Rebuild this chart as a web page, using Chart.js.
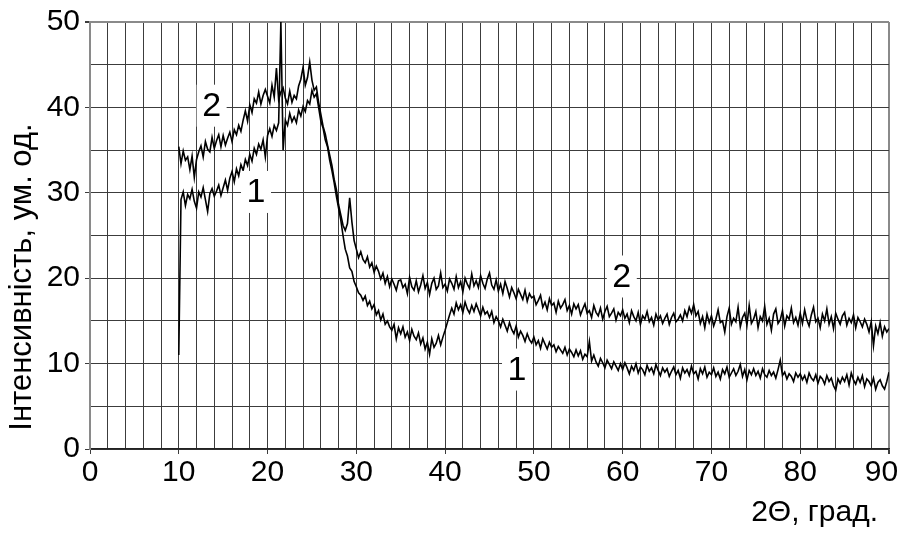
<!DOCTYPE html>
<html>
<head>
<meta charset="utf-8">
<script src="https://cdn.jsdelivr.net/npm/chart.js@4.4.1/dist/chart.umd.min.js"></script>
<style>
  html, body { margin: 0; padding: 0; background: #fff; }
  #wrap { width: 902px; height: 533px; position: relative; }
</style>
</head>
<body>
<div id="wrap"><canvas id="xrd"></canvas></div>
<script>
// XRD scan: 2θ from 10 to 90 deg, one reading every 0.25 deg
const SCAN_START = 10;
const SCAN_STEP = 0.25;

// curve 1 (lower at low angles)
const intensity1 = [
  11.0, 29.2, 30.1, 28.5, 29.8, 29.3, 30.4, 29.0, 28.2, 30.1, 29.5, 30.6, 29.2, 27.8, 29.9, 30.5, 29.6, 30.2, 30.9, 29.7,
  30.6, 31.5, 30.3, 31.7, 32.5, 31.3, 32.8, 32.0, 33.3, 32.6, 33.9, 33.2, 34.5, 33.7, 35.2, 34.5, 35.7, 35.1, 36.2, 34.2,
  36.7, 37.5, 36.6, 37.9, 37.3, 38.2, 50.0, 35.0, 38.5, 37.9, 39.3, 38.3, 38.9, 38.2, 39.7, 39.0, 40.1, 39.5, 40.8, 40.4,
  42.0, 41.2, 41.6, 40.0, 38.4, 37.6, 36.2, 35.4, 33.8, 32.6, 31.2, 29.6, 28.2, 26.8, 25.0, 23.4, 22.6, 21.2, 20.8, 19.6,
  19.0, 18.3, 18.0, 17.4, 17.9, 16.8, 17.3, 16.4, 16.9, 15.7, 16.2, 15.1, 15.8, 14.6, 15.0, 14.3, 13.9, 14.6, 12.9, 14.2,
  13.5, 14.3, 13.1, 13.7, 12.7, 14.0, 13.2, 12.8, 13.6, 12.3, 13.0, 11.7, 12.5, 11.1, 12.9, 11.9, 12.4, 13.3, 12.2, 13.1,
  13.9, 14.8, 15.7, 16.5, 15.8, 17.1, 16.3, 16.9, 16.0, 17.2, 16.4, 15.9, 16.8, 16.1, 17.0, 16.3, 15.6, 16.6, 15.8, 16.1,
  15.4, 16.1, 14.8, 15.5, 15.0, 14.3, 15.2, 14.5, 13.8, 14.8, 14.0, 13.5, 14.4, 13.1, 13.8, 13.3, 12.6, 13.5, 12.8, 12.4,
  13.1, 12.2, 12.7, 11.8, 12.9, 12.3, 11.7, 12.5, 11.9, 12.2, 11.4, 12.0, 11.6, 11.2, 11.9, 11.0, 11.7, 11.3, 10.8, 11.6,
  10.9, 11.5, 10.5, 11.1, 10.8, 12.6, 10.3, 11.0, 10.2, 9.7, 10.6, 10.1, 9.5, 10.4, 9.9, 9.4, 10.2, 9.7, 9.2, 10.0,
  9.3, 10.1, 9.5, 8.8, 9.7, 9.2, 10.0, 8.9, 9.6, 9.3, 8.7, 9.8, 9.1, 9.5, 8.8, 9.9, 9.2, 8.6, 9.5, 9.0,
  9.4, 8.5, 9.1, 9.6, 8.7, 9.2, 8.3, 9.5, 8.9, 9.3, 8.6, 9.7, 8.8, 9.1, 8.2, 9.4, 8.8, 9.6, 8.4, 9.0,
  8.7, 9.5, 8.5, 9.0, 8.2, 9.3, 8.8, 9.6, 8.4, 8.9, 9.4, 8.6, 9.1, 9.9, 8.5, 9.3, 8.1, 9.2, 8.7, 9.4,
  8.6, 9.1, 8.3, 9.4, 8.7, 8.4, 9.2, 8.6, 9.0, 8.3, 9.3, 10.4, 8.6, 9.0, 8.2, 8.8, 8.5, 7.9, 8.9, 8.4,
  8.8, 8.1, 8.6, 7.8, 8.9, 8.3, 8.0, 8.7, 7.7, 8.5, 8.2, 7.6, 8.6, 7.9, 8.3, 7.4, 6.9, 8.2, 7.7, 8.4,
  7.9, 8.7, 7.5, 8.9, 8.1, 7.6, 8.4, 7.8, 8.6, 7.3, 8.2, 7.9, 7.4, 8.3, 7.0, 7.8, 8.1, 7.4, 7.0, 7.9,
  9.0
];

// curve 2 (upper at low and high angles)
const intensity2 = [
  35.4, 33.4, 34.9, 33.8, 34.2, 32.7, 34.3, 31.8, 33.9, 34.8, 35.5, 34.2, 36.0, 35.1, 34.8, 36.5, 35.2, 36.1, 36.8, 35.4,
  36.7, 35.6, 36.4, 37.1, 36.0, 37.4, 36.8, 37.9, 37.2, 38.5, 39.6, 38.4, 40.3, 39.4, 41.0, 40.5, 41.8, 40.4, 41.4, 42.1,
  41.3, 40.5, 42.6, 41.2, 44.6, 40.9, 41.8, 42.3, 41.1, 40.4, 41.9, 40.6, 41.4, 41.0, 42.5, 43.3, 44.7, 42.6, 43.5, 45.3,
  43.2, 42.0, 42.4, 40.6, 39.2, 37.8, 36.9, 35.6, 34.4, 33.2, 31.6, 30.4, 28.6, 27.4, 26.2, 25.6, 26.4, 29.4, 26.6, 24.4,
  23.4, 22.4, 23.1, 22.2, 21.8, 22.5, 21.3, 21.8, 20.7, 21.4, 20.8, 19.9, 20.6, 19.4, 20.2, 19.0, 19.9, 19.3, 18.6, 19.7,
  19.8, 18.9, 19.3, 18.2, 20.1, 19.0, 18.6, 19.7, 18.4, 19.2, 20.3, 18.8, 19.5, 18.1, 19.4, 20.0, 18.7, 19.1, 20.6, 18.9,
  19.3, 18.5, 19.9, 19.4, 18.7, 20.2, 18.9, 19.6, 18.4, 20.0, 19.3, 18.8, 20.5, 19.1, 19.7, 18.9, 20.3, 19.4, 18.8, 19.9,
  20.6, 19.2, 18.7, 19.8, 18.5, 19.3, 18.2, 19.6, 18.8, 17.8, 18.9, 18.3, 17.6, 18.7, 18.1, 17.5, 18.6, 17.3, 18.2, 17.7,
  17.9, 16.9, 17.4, 18.0, 16.6, 17.2, 16.3, 17.6, 16.8, 17.1, 16.0, 17.3, 16.5, 16.9, 17.5, 16.2, 16.8, 15.8, 17.0, 16.4,
  16.9, 15.7, 16.4, 17.0, 15.9, 16.2, 15.4, 16.8, 16.0, 15.6, 16.5, 15.2, 16.1, 16.7, 15.5, 15.9, 16.4, 15.1, 16.0, 15.6,
  16.3, 15.3, 15.8, 14.8, 16.2, 15.5, 15.0, 16.0, 14.6, 15.6, 15.2, 16.1, 14.9, 15.4, 14.5, 15.8, 15.1, 15.6, 14.7, 15.3,
  15.8, 14.6, 15.4, 15.9, 14.9, 15.2, 15.7, 15.0, 16.2, 15.5, 16.6, 15.9, 16.9, 15.6, 16.1, 14.7, 15.5, 14.2, 15.8, 14.8,
  15.6, 14.4, 15.2, 16.3, 14.8, 15.0, 13.7, 15.5, 16.5, 14.6, 15.3, 14.9, 16.6, 14.3, 15.4, 15.9, 14.5, 16.8, 14.7, 15.2,
  16.1, 14.2, 15.5, 15.0, 16.7, 14.6, 15.3, 13.9, 15.8, 16.4, 14.7, 15.1, 16.2, 14.4, 15.6, 15.2, 16.5, 14.8, 15.4, 14.5,
  15.9, 14.7, 16.3, 15.1, 14.4, 15.7, 16.6, 14.9, 15.3, 14.2, 15.8, 15.0, 16.4, 14.6, 15.5, 14.1, 15.9, 15.2, 14.6, 15.6,
  16.0, 14.5, 15.3, 14.8, 15.7, 14.2, 15.4, 14.9, 14.3, 15.2, 14.6, 13.7, 14.9, 12.1, 14.4, 13.5, 14.8, 13.2, 14.3, 13.7,
  14.1
];

// curve numbers written on the plot (data coords)
const curveLabels = [
  { text: '2', x: 13.7, y: 40.2 },
  { text: '1', x: 18.7, y: 30.1 },
  { text: '2', x: 59.9, y: 20.2 },
  { text: '1', x: 48.1, y: 9.3 }
];

const X_MIN = 0, X_MAX = 90, X_GRID = 2, X_LABEL_EVERY = 10;
const Y_MIN = 0, Y_MAX = 50, Y_GRID = 5, Y_LABEL_EVERY = 10;
const X_TITLE = '2\u0398, град.';
const Y_TITLE = 'Інтенсивність, ум. од.';

const FONT = "'Liberation Sans', Arial, sans-serif";
const GRID = '#3c3c3c';
const FRAME = '#8a8a8a';

function toPoints(values) {
  return values.map(function (v, i) { return { x: SCAN_START + i * SCAN_STEP, y: v }; });
}

function gridColor(max) {
  return function (ctx) { return ctx.tick && ctx.tick.value === max ? FRAME : GRID; };
}
function gridWidth(max) {
  return function (ctx) { return ctx.tick && ctx.tick.value === max ? 2 : 1; };
}
function tickMarkColor(every) {
  return function (ctx) { return ctx.tick && ctx.tick.value % every === 0 ? GRID : 'rgba(0,0,0,0)'; };
}

// curve numbers in white boxes + axis titles
const annotations = {
  id: 'annotations',
  afterDraw(chart) {
    const ctx = chart.ctx;
    const xs = chart.scales.x, ys = chart.scales.y;
    ctx.save();
    ctx.font = '34px ' + FONT;
    ctx.textAlign = 'center';
    ctx.textBaseline = 'middle';
    curveLabels.forEach(function (l) {
      const px = xs.getPixelForValue(l.x);
      const py = ys.getPixelForValue(l.y);
      ctx.fillStyle = '#fff';
      ctx.fillRect(px - 15, py - 21, 30, 42);
      ctx.fillStyle = '#000';
      ctx.fillText(l.text, px, py + 1);
    });

    ctx.font = '30px ' + FONT;
    ctx.textAlign = 'right';
    ctx.fillText(X_TITLE, 878, 513);

    ctx.translate(22, 277);
    ctx.rotate(-Math.PI / 2);
    ctx.font = '31px ' + FONT;
    ctx.textAlign = 'center';
    ctx.fillText(Y_TITLE, 0, 0);
    ctx.restore();
  }
};

new Chart(document.getElementById('xrd').getContext('2d'), {
  type: 'line',
  data: {
    datasets: [
      { label: '1', data: toPoints(intensity1), borderColor: '#000', borderWidth: 1.6, pointRadius: 0, tension: 0, fill: false },
      { label: '2', data: toPoints(intensity2), borderColor: '#000', borderWidth: 1.6, pointRadius: 0, tension: 0, fill: false }
    ]
  },
  options: {
    responsive: true,
    maintainAspectRatio: false,
    animation: false,
    layout: { padding: { top: 22, right: 13, left: 0, bottom: 0 } },
    plugins: { legend: { display: false }, tooltip: { enabled: false } },
    scales: {
      x: {
        type: 'linear',
        min: X_MIN,
        max: X_MAX,
        afterFit: function (s) { s.height = 84; s.paddingLeft = 0; s.paddingRight = 0; },
        grid: { color: gridColor(X_MAX), lineWidth: gridWidth(X_MAX), tickLength: 5, tickColor: tickMarkColor(X_LABEL_EVERY) },
        border: { color: '#222', width: 1.5 },
        ticks: {
          stepSize: X_GRID,
          autoSkip: false,
          maxRotation: 0,
          padding: 1,
          color: '#000',
          font: { family: FONT, size: 30 },
          callback: function (v) {
            if (v % X_LABEL_EVERY !== 0) return '';
            // last label sits a little inside the canvas edge
            return v === X_MAX ? String(v) + '\u2002' : String(v);
          }
        }
      },
      y: {
        min: Y_MIN,
        max: Y_MAX,
        afterFit: function (s) { s.width = 90; s.paddingTop = 0; s.paddingBottom = 0; },
        grid: { color: gridColor(Y_MAX), lineWidth: gridWidth(Y_MAX), tickLength: 5, tickColor: tickMarkColor(Y_LABEL_EVERY) },
        border: { color: FRAME, width: 2 },
        ticks: {
          stepSize: Y_GRID,
          autoSkip: false,
          padding: 5,
          color: '#000',
          font: { family: FONT, size: 30 },
          callback: function (v) { return v % Y_LABEL_EVERY === 0 ? String(v) : ''; }
        }
      }
    }
  },
  plugins: [annotations]
});
</script>
</body>
</html>
